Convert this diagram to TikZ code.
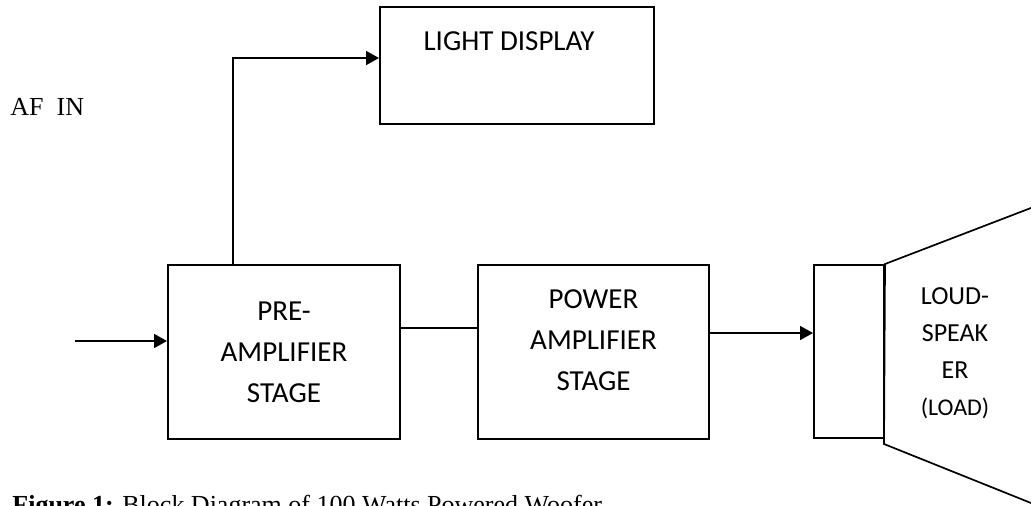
\documentclass[tikz,border=0pt]{standalone}
\usepackage{fontspec}
\setmainfont{Liberation Serif}
\newfontfamily\calib{Carlito}
\usetikzlibrary{arrows.meta}
\begin{document}
\begin{tikzpicture}[x=0.5pt,y=-0.5pt,
  blk/.style={draw, line width=1pt, inner sep=0pt},
  lbl/.style={font=\calib\fontsize{14.5}{20.5}\selectfont, align=center, inner sep=0pt},
  spklbl/.style={font=\calib\fontsize{13}{18.5}\selectfont, align=center, inner sep=0pt},
  serif/.style={font=\fontsize{13}{15}\selectfont, inner sep=0pt},
  wire/.style={line width=0.85pt},
  arr/.style={wire, -{Triangle[length=6.5pt,width=7pt]}}]
\useasboundingbox (0,0) rectangle (1031,505);
\fill[white] (0,0) rectangle (1031,505);
\clip (0,0) rectangle (1031,505);

% blocks
\node[blk, minimum width=137pt, minimum height=58.5pt] (light) at (517,65.5) {};
\node[lbl, anchor=base] (lighttxt) at (509,50) {LIGHT DISPLAY};
\node[blk, lbl, minimum width=116pt, minimum height=87pt] (pre) at (284,352) {PRE-\\AMPLIFIER\\STAGE};
\node[blk, minimum width=115.5pt, minimum height=87pt] (pwr) at (593.5,352) {};
\node[lbl] (pwrtxt) at (593.5,340.5) {POWER\\AMPLIFIER\\STAGE};
\node[blk, minimum width=35pt, minimum height=86.5pt] (spk) at (849,351.5) {};
\node[spklbl] (spktxt) at (955,353) {LOUD-\\SPEAK\\ER\\{\fontsize{12}{18.5}\selectfont(LOAD)}};

% loudspeaker cone
\coordinate (ct) at (1040,204.5);
\coordinate (cbl) at (884,444);
\coordinate (cb) at (1040,506.6);
\draw[wire] (ct) -- (spk.north east) -- (cbl) -- (cb);

% texts
\node[serif, anchor=base west] (afin) at (10,115) {AF\ \ IN};
\node[serif, anchor=base west] (cap) at (12,513) {\textbf{Figure 1:} Block Diagram of 100 Watts Powered Woofer};

% connectors
\coordinate (src) at (75,341);
\draw[arr] (src) -- (src -| pre.west);
\coordinate (tap) at (233,58);
\draw[arr] (tap |- pre.north) -- (tap) -- (tap -| light.west);
\draw[wire] ([yshift=12pt]pre.east) -- ([yshift=12pt]pwr.west);
\draw[arr] ([yshift=9.5pt]pwr.east) -- ([yshift=9.5pt]pwr.east -| spk.west);
\end{tikzpicture}
\end{document}
